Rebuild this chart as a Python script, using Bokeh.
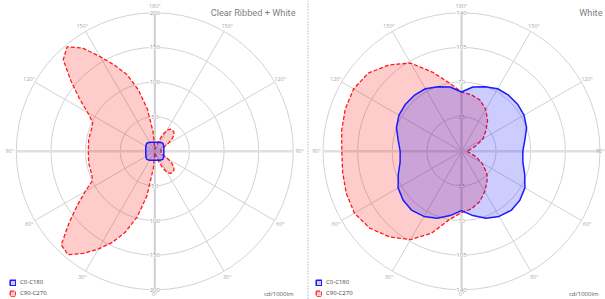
import numpy as np
from bokeh.plotting import figure
from bokeh.layouts import row
from bokeh.models import Range1d, Legend, LegendItem, Span
from bokeh.core.properties import value
from bokeh.embed import file_html
from bokeh.resources import INLINE

# ---------------- data ----------------
angle_ticks = [0, 30, 60, 90, 120, 150, 180]
angle_tick_labels = ["0°", "30°", "60°", "90°", "120°", "150°", "180°"]
series_labels = ["C0-C180", "C90-C270"]
unit_label = "cd/1000lm"

# left panel: Clear Ribbed + White
left_title = "Clear Ribbed + White"
left_rings = [50, 100, 150, 200]
left_c0_gamma = [0, 15, 30, 45, 60, 75, 90, 105, 120, 135, 150, 165, 180]
left_c0_values = [13, 13.5, 15, 16.5, 15, 13.5, 13, 13.5, 15, 16.5, 15, 13.5, 13]
left_c180_values = [13, 13.5, 15, 16.5, 15, 13.5, 13, 13.5, 15, 16.5, 15, 13.5, 13]
left_c90_gamma = [0, 10, 20, 25, 30, 35, 40, 45, 50, 55, 60, 65, 70, 80, 90, 100, 110,
                  115, 120, 125, 130, 135, 140, 145, 150, 155, 160, 170, 180]
left_c90_values = [3, 5, 14, 26, 35, 39, 40, 39, 36, 30, 22, 14, 10, 9, 9, 9, 10,
                   14, 22, 30, 36, 39, 40, 39, 35, 26, 14, 5, 3]
left_c270_gamma = [0, 5, 10, 15, 20, 25, 30, 35, 40, 45, 50, 55, 60, 65, 70, 80, 90,
                   100, 110, 115, 120, 125, 130, 135, 140, 145, 150, 155, 160, 165,
                   170, 175, 180]
left_c270_values = [3, 25, 65, 98, 124, 145, 163, 180, 195, 191, 162, 137, 116, 99, 97,
                    97, 96, 97, 97, 99, 112, 133, 158, 187, 197, 182, 158, 137, 118,
                    92, 62, 28, 3]

# right panel: White
right_title = "White"
right_rings = [35, 70, 105, 140]
right_c0_gamma = [0, 10, 20, 30, 40, 50, 60, 70, 80, 90, 100, 110, 120, 130, 140, 150,
                  160, 170, 180]
right_c0_values = [60, 66, 72, 76, 78, 77, 74, 68, 63, 62, 65, 70, 73, 74, 74, 73,
                   69.5, 66, 60]
right_c180_values = [60, 66, 72, 76, 78, 77, 74, 68, 63, 62, 65, 70, 73, 74, 74, 73,
                     69.5, 66, 60]
right_c90_gamma = [0, 10, 20, 30, 40, 45, 50, 60, 70, 80, 90, 100, 110, 120, 130, 135,
                   140, 150, 160, 170, 180]
right_c90_values = [62, 59, 54, 47, 40, 37, 33, 24, 15, 8, 5, 8, 15, 25, 32, 36,
                    41, 49, 55, 58, 60]
right_c270_gamma = [0, 10, 20, 30, 40, 50, 60, 70, 80, 90, 100, 110, 120, 130, 140,
                    150, 160, 170, 180]
right_c270_values = [62, 70, 88, 103, 113, 121, 125, 124, 122, 121, 123, 125, 126,
                     123, 114, 103, 85, 70, 60]

# ---------------- layout ----------------
W, H = 605, 299
SPLIT = 310       # pixel column where the right panel begins
RR = 138.5        # outer ring radius in pixels
FONT = value("Open Sans")


def polygon(g_right, v_right, g_left, v_left):
    gr = np.radians(np.asarray(g_right, float))
    vr = np.asarray(v_right, float)
    gl = np.radians(np.asarray(g_left, float))[::-1]
    vl = np.asarray(v_left, float)[::-1]
    xs = np.concatenate([np.sin(gr) * vr, -np.sin(gl) * vl])
    ys = np.concatenate([-np.cos(gr) * vr, -np.cos(gl) * vl])
    return list(xs), list(ys)


def make_panel(X0, X1, cx, cy, rmax, rings, title, blue, red, title_px, unit_px,
               legend_px, divider_px=None):
    k = rmax / RR
    p = figure(width=X1 - X0, height=H,
               x_range=Range1d((X0 - cx) * k, (X1 - cx) * k),
               y_range=Range1d((cy - H) * k, cy * k), output_backend="svg",
               toolbar_location=None, min_border=0, x_axis_type=None,
               y_axis_type=None, outline_line_color=None,
               background_fill_color="white", border_fill_color="white")
    # rings
    p.circle(x=[0] * len(rings), y=[0] * len(rings), radius=rings,
             fill_color=None, line_color="#d2d2d2", line_width=1)
    # spokes
    for t in [30, 60, 120, 150]:
        tr = np.radians(t)
        for s in (1, -1):
            p.line([0, s * np.sin(tr) * rmax], [0, -np.cos(tr) * rmax],
                   line_color="#d2d2d2", line_width=1)
    p.line([-rmax, rmax], [0, 0], line_color="#e0e0e0", line_width=2.5)
    p.line([0, 0], [-rmax, rmax], line_color="#cfcfcf", line_width=2)

    # ring labels (under the translucent fills)
    rl_y = rings + [-r for r in rings]
    p.text(x=[0] * len(rl_y), y=rl_y, text=[str(r) for r in rings] * 2,
           text_font=FONT, text_font_size="6px", text_color="#9a9a9a",
           text_align="center", text_baseline="middle",
           background_fill_color="white")

    # data
    rx, ry = red
    bx, by = blue
    red_r = p.patch(rx, ry, fill_color="red", fill_alpha=0.2, line_color="#ff1a1a",
                    line_width=1.3, line_dash="4 2")
    blue_r = p.patch(bx, by, fill_color="blue", fill_alpha=0.2, line_color="#1a1aff",
                     line_width=1.5)

    # angle labels (kept inside the canvas at the edges)
    px_max_x = min(X1 - cx - 5, 145.0)
    ax, ay, at = [], [], []
    for t, lab in zip(angle_ticks, angle_tick_labels):
        tr = np.radians(t)
        lr = 143.0 if t == 0 else 145.0
        sides = (1,) if t in (0, 180) else (1, -1)
        for s in sides:
            xpx = s * np.sin(tr) * lr
            if xpx > px_max_x:
                xpx = px_max_x
            ax.append(xpx * k)
            ay.append(-np.cos(tr) * lr * k)
            at.append(lab)
    p.text(x=ax, y=ay, text=at, text_font=FONT, text_font_size="5.5px",
           text_color="#a8a8a8", text_align="center", text_baseline="middle")

    # title
    p.text(x=[(title_px[0] - cx) * k], y=[(cy - title_px[1]) * k], text=[title],
           text_font=value("Roboto"), text_font_size="9.2px", text_color="#808080",
           text_align="right", text_baseline="middle")
    # unit label
    p.text(x=[(unit_px[0] - cx) * k], y=[(cy - unit_px[1]) * k], text=[unit_label],
           text_font=FONT, text_font_size="6px", text_color="#555555",
           text_align="right", text_baseline="middle")

    if divider_px is not None:
        p.add_layout(Span(location=(divider_px - cx) * k, dimension="height",
                          line_color="#b8b8b8", line_dash="1 2", line_width=1.5))

    # legend
    legend = Legend(items=[LegendItem(label=series_labels[0], renderers=[blue_r]),
                           LegendItem(label=series_labels[1], renderers=[red_r])],
                    location=(legend_px[0] - X0, H - legend_px[1]),
                    orientation="vertical",
                    border_line_color=None, background_fill_alpha=0,
                    padding=0, margin=0, spacing=3, glyph_width=7, glyph_height=7,
                    label_height=7, label_standoff=4, label_text_font="Open Sans",
                    label_text_font_size="6px", label_text_color="#444444",
                    label_text_baseline="middle")
    p.add_layout(legend)
    return p


left_blue = polygon(left_c0_gamma, left_c0_values, left_c0_gamma, left_c180_values)
left_red = polygon(left_c90_gamma, left_c90_values, left_c270_gamma, left_c270_values)
right_blue = polygon(right_c0_gamma, right_c0_values, right_c0_gamma, right_c180_values)
right_red = polygon(right_c90_gamma, right_c90_values, right_c270_gamma, right_c270_values)

p_left = make_panel(0, SPLIT, 154.3, 150.8, 200, left_rings, left_title,
                    left_blue, left_red, title_px=(295, 12), unit_px=(293, 293),
                    legend_px=(9, 297), divider_px=307.5)
p_right = make_panel(SPLIT, W, 461.0, 150.8, 140, right_rings, right_title,
                     right_blue, right_red, title_px=(602, 12), unit_px=(598, 293),
                     legend_px=(315, 297))

layout = row(p_left, p_right, spacing=0)
open("out.html", "w").write(file_html(layout, INLINE))
